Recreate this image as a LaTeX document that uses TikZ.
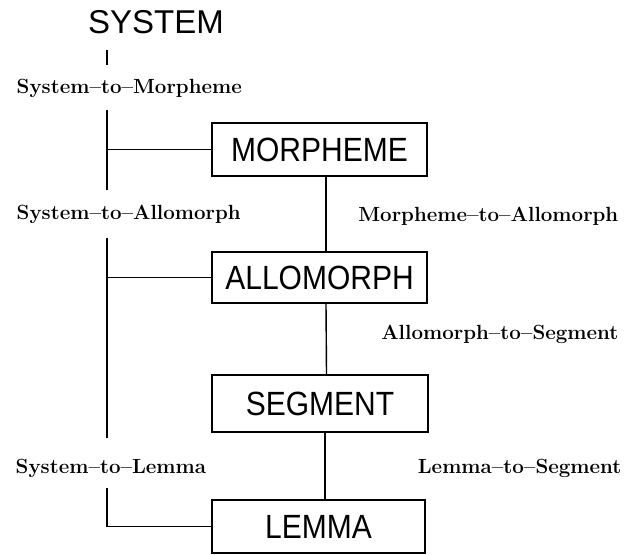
\documentclass[tikz,border=0pt]{standalone}
\usepackage{fontspec}
\newfontfamily\boxfont{Liberation Sans}
\newcommand{\tallbox}[1]{\scalebox{1}[1.12]{#1}}
\begin{document}
\begin{tikzpicture}[x=1pt,y=-1pt,
  line width=1.4pt,
  ent/.style={draw, line width=1.4pt, inner sep=0pt, font=\boxfont\fontsize{30}{32}\selectfont},
  rel/.style={font=\bfseries\addfontfeature{FakeBold=0.6}\fontsize{20.5}{24}\selectfont, inner sep=0pt},
  title/.style={font=\boxfont\fontsize{33}{35}\selectfont, inner sep=0pt}]
\fill[white] (0,0) rectangle (634,554);
\useasboundingbox (0,0) rectangle (634,554);

\node[title, anchor=base] (sys) at (156,33) {SYSTEM};

\node[ent, minimum width=215pt, minimum height=53pt] (m) at (319.5,149.5) {\tallbox{MORPHEME}};
\node[ent, minimum width=215pt, minimum height=51pt] (a) at (319.5,277.5) {\tallbox{ALLOMORPH}};
\node[ent, minimum width=216pt, minimum height=57pt] (s) at (320,403.5) {\tallbox{SEGMENT}};
\node[ent, minimum width=213pt, minimum height=53pt] (l) at (318.5,526.5) {\tallbox{LEMMA}};

\node[rel, anchor=base west] (sm) at (16,93) {System--to--Morpheme};
\node[rel, anchor=base west] (sa) at (16,219) {System--to--Allomorph};
\node[rel, anchor=base west] (sl) at (15,473) {System--to--Lemma};
\node[rel, anchor=base east] (ma) at (619,221) {Morpheme--to--Allomorph};
\node[rel, anchor=base east] (as) at (619,339) {Allomorph--to--Segment};
\node[rel, anchor=base east] (ls) at (622,473) {Lemma--to--Segment};

\coordinate (t1) at (107,50);
\coordinate (t2) at (107,65);
\coordinate (t3) at (107,110);
\coordinate (t4) at (107,190);
\coordinate (t5) at (107,238);
\coordinate (t6) at (107,438);
\coordinate (t7) at (107,488);

\draw (t1) -- (t2);
\draw (t3) -- (t4);
\draw (t5) -- (t6);
\draw (t7) |- (l.west);
\draw (t3 |- m.west) -- (m.west);
\draw (t5 |- a.west) -- (a.west);

\draw ([xshift=6.5pt]m.south) -- ([xshift=6.5pt]a.north);
\draw ([xshift=6.5pt]a.south) -- ([xshift=6.5pt]s.north);
\draw ([xshift=5pt]s.south) -- ([xshift=6.5pt]l.north);
\end{tikzpicture}
\end{document}
